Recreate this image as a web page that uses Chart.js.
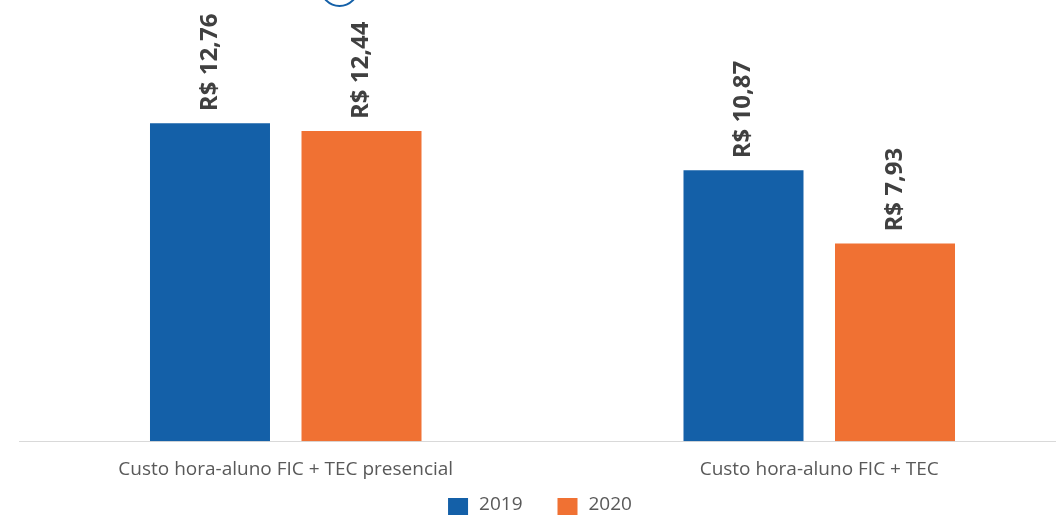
<!DOCTYPE html>
<html>
<head>
<meta charset="utf-8">
<script src="https://cdn.jsdelivr.net/npm/chart.js@4/dist/chart.umd.min.js"></script>
<style>
  html, body { margin: 0; padding: 0; background: #fff; overflow: hidden; }
  .wrap { position: relative; width: 1056px; height: 515px; overflow: hidden; }
  .box { position: absolute; left: 0; top: 0; width: 1086px; height: 515px; }
  .ring { position: absolute; left: 320px; top: -32px; width: 35px; height: 35px;
          border: 2px solid #1460a8; border-radius: 50%; }
</style>
</head>
<body>
<div class="wrap">
  <div class="box"><canvas id="myChart"></canvas></div>
  <div class="ring"></div>
</div>
<script>
const categories = ["Custo hora-aluno FIC + TEC presencial", "Custo hora-aluno FIC + TEC"];
const values2019 = [12.76, 10.87];
const values2020 = [12.44, 7.93];
const seriesNames = ["2019", "2020"];

const blue = "#1460a8";
const orange = "#f07133";

const formatBRL = (v) => "R$ " + v.toFixed(2).replace(".", ",");

// rotated value labels above each bar
const valueLabels = {
    id: "valueLabels",
    afterDatasetsDraw(chart) {
        const ctx = chart.ctx;
        ctx.save();
        ctx.font = "bold 24px 'Open Sans'";
        ctx.fillStyle = "#404040";
        ctx.textAlign = "left";
        ctx.textBaseline = "middle";
        chart.data.datasets.forEach((ds, i) => {
            chart.getDatasetMeta(i).data.forEach((bar, j) => {
                ctx.save();
                ctx.translate(bar.x, bar.y - 12);
                ctx.rotate(-Math.PI / 2);
                ctx.fillText(formatBRL(ds.data[j]), 0, 0);
                ctx.restore();
            });
        });
        ctx.restore();
    }
};

// legend drawn by hand so the spacing can match
const bottomLegend = {
    id: "bottomLegend",
    afterDraw(chart) {
        const ctx = chart.ctx;
        ctx.save();
        ctx.font = "19px 'Open Sans'";
        ctx.textBaseline = "middle";
        const boxW = 20, boxH = 18, gap = 11, spacing = 35;
        const items = chart.data.datasets.map(ds => ({
            text: ds.label, color: ds.backgroundColor, w: ctx.measureText(ds.label).width
        }));
        let total = 0;
        items.forEach((it, i) => { total += boxW + gap + it.w + (i ? spacing : 0); });
        let x = chart.width / 2 - 3 - total / 2;
        const top = chart.height - 17;
        items.forEach(it => {
            ctx.fillStyle = it.color;
            ctx.fillRect(x, top, boxW, boxH);
            ctx.fillStyle = "#595959";
            ctx.fillText(it.text, x + boxW + gap, top + 7);
            x += boxW + gap + it.w + spacing;
        });
        ctx.restore();
    }
};

const ctx = document.getElementById("myChart").getContext("2d");
const myChart = new Chart(ctx, {
    type: "bar",
    data: {
        labels: categories,
        datasets: [
            { label: seriesNames[0], data: values2019, backgroundColor: blue },
            { label: seriesNames[1], data: values2020, backgroundColor: orange },
        ],
    },
    options: {
        responsive: true,
        maintainAspectRatio: false,
        animation: false,
        datasets: { bar: { categoryPercentage: 0.568, barPercentage: 0.792 } },
        layout: { padding: { left: 19, right: 0, top: 0, bottom: 25 } },
        scales: {
            x: {
                grid: { display: false },
                border: { display: true, color: "#d9d9d9", width: 1 },
                ticks: { color: "#595959", font: { family: "'Open Sans'", size: 19 }, padding: 9 },
            },
            y: { display: false, min: 0, max: 17.7 },
        },
        plugins: {
            tooltip: { enabled: false },
            legend: { display: false },
        },
    },
    plugins: [valueLabels, bottomLegend],
});
</script>
</body>
</html>
